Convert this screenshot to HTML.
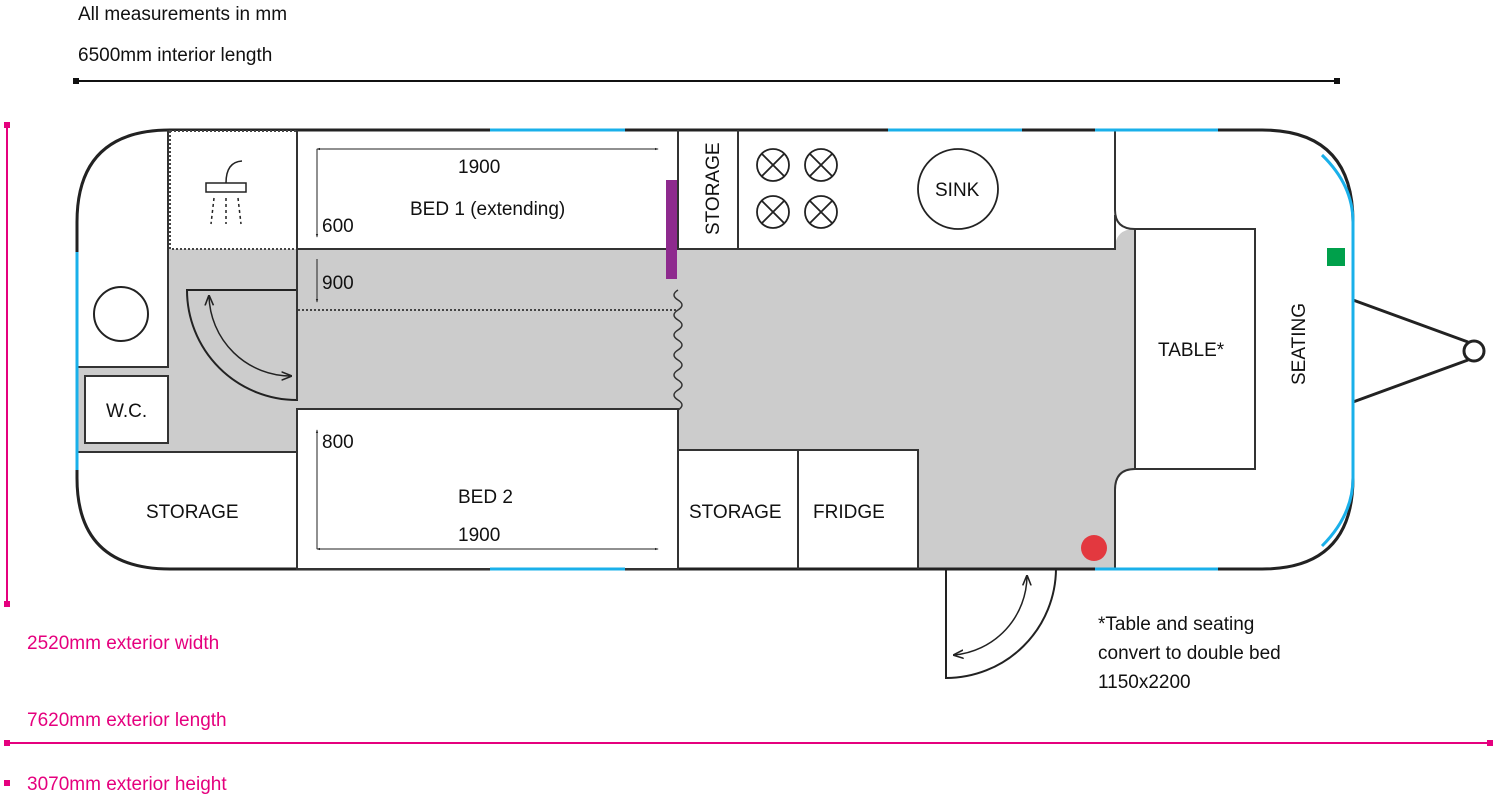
<!DOCTYPE html>
<html><head><meta charset="utf-8"><style>
body{margin:0;background:#fff;}
svg text{font-family:"Liberation Sans",sans-serif;font-size:19px;fill:#111;}
</style></head><body>
<svg width="1496" height="800" viewBox="0 0 1496 800" xmlns="http://www.w3.org/2000/svg">
<defs>
<marker id="a" viewBox="0 0 10 10" refX="9" refY="5" markerWidth="7" markerHeight="7" orient="auto-start-reverse"><path d="M0,1 L10,5 L0,9" fill="none" stroke="#222" stroke-width="1.5"/></marker>
<marker id="s" viewBox="0 0 10 10" refX="8" refY="5" markerWidth="4" markerHeight="4" orient="auto-start-reverse"><path d="M0,2 L10,5 L0,8z" fill="#222"/></marker>
</defs>
<text x="78" y="20">All measurements in mm</text>
<text x="78" y="61">6500mm interior length</text>
<line x1="77" y1="81" x2="1337" y2="81" stroke="#111" stroke-width="2"/>
<rect x="73" y="78" width="6" height="6" fill="#111"/><rect x="1334" y="78" width="6" height="6" fill="#111"/>
<line x1="7" y1="125" x2="7" y2="604" stroke="#e5007e" stroke-width="2"/>
<rect x="4" y="122" width="6" height="6" fill="#e5007e"/><rect x="4" y="601" width="6" height="6" fill="#e5007e"/>
<text x="27" y="649" style="fill:#e5007e">2520mm exterior width</text>
<text x="27" y="726" style="fill:#e5007e">7620mm exterior length</text>
<line x1="7" y1="743" x2="1490" y2="743" stroke="#e5007e" stroke-width="2"/>
<rect x="4" y="740" width="6" height="6" fill="#e5007e"/><rect x="1487" y="740" width="6" height="6" fill="#e5007e"/>
<rect x="4" y="780" width="6" height="6" fill="#e5007e"/>
<text x="27" y="790" style="fill:#e5007e">3070mm exterior height</text>
<path d="M168,249 H1115 Q1115,229 1135,229 V469 Q1115,469 1115,490 V569 H918 V450 H678 V409 H297 V452 H77 V367 H168Z" fill="#cccccc"/>
<path d="M170,130 H1262 Q1353,130 1353,222 V478 Q1353,569 1262,569 H170 Q77,569 77,478 V222 Q77,130 170,130Z" fill="none" stroke="#222" stroke-width="3"/>
<rect x="170" y="131" width="127" height="118" fill="#fff" stroke="#444" stroke-width="2" stroke-dasharray="2,2"/>
<rect x="206" y="183" width="40" height="9" fill="none" stroke="#222" stroke-width="1.5"/>
<path d="M226,183 Q226,162 242,161" fill="none" stroke="#222" stroke-width="1.5"/>
<g stroke="#222" stroke-width="1.5" stroke-dasharray="3,3"><line x1="214" y1="198" x2="211" y2="224"/><line x1="226" y1="198" x2="226" y2="224"/><line x1="238" y1="198" x2="241" y2="224"/></g>
<path d="M168,130 V367 H78" fill="none" stroke="#333" stroke-width="2"/>
<circle cx="121" cy="314" r="27" fill="none" stroke="#222" stroke-width="2"/>
<rect x="85" y="376" width="83" height="67" fill="#fff" stroke="#333" stroke-width="2"/>
<text x="106" y="417">W.C.</text>
<path d="M297,400 A110,110 0 0 1 187,290 H297 Z" fill="none" stroke="#222" stroke-width="2"/>
<path d="M209,296 A82,82 0 0 0 291,376" fill="none" stroke="#222" stroke-width="1.5" marker-start="url(#a)" marker-end="url(#a)"/>
<path d="M297,452 H78" stroke="#333" stroke-width="2"/>
<text x="146" y="518">STORAGE</text>
<path d="M297,130 V249 H678 M297,249 V400" fill="none" stroke="#333" stroke-width="2"/>
<line x1="317" y1="149" x2="658" y2="149" stroke="#222" stroke-width="1" marker-start="url(#s)" marker-end="url(#s)"/>
<line x1="317" y1="149" x2="317" y2="237" stroke="#222" stroke-width="1" marker-end="url(#s)"/>
<text x="458" y="173">1900</text>
<text x="410" y="215">BED 1 (extending)</text>
<text x="322" y="232">600</text>
<line x1="317" y1="259" x2="317" y2="302" stroke="#222" stroke-width="1" marker-end="url(#s)"/>
<text x="322" y="289">900</text>
<line x1="298" y1="310" x2="678" y2="310" stroke="#444" stroke-width="2" stroke-dasharray="2,2"/>
<rect x="666" y="180" width="11" height="99" fill="#8e2a8e"/>
<path d="M678,290 q-8,5 0,10 q8,5 0,10 q-8,5 0,10 q8,5 0,10 q-8,5 0,10 q8,5 0,10 q-8,5 0,10 q8,5 0,10 q-8,5 0,10 q8,5 0,10 q-8,5 0,10 q8,5 0,10" fill="none" stroke="#333" stroke-width="1.5"/>
<rect x="297" y="409" width="381" height="160" fill="#fff" stroke="#333" stroke-width="2"/>
<line x1="317" y1="549" x2="317" y2="430" stroke="#222" stroke-width="1" marker-end="url(#s)"/>
<line x1="317" y1="549" x2="658" y2="549" stroke="#222" stroke-width="1" marker-start="url(#s)" marker-end="url(#s)"/>
<text x="322" y="448">800</text>
<text x="458" y="503">BED 2</text>
<text x="458" y="541">1900</text>
<path d="M678,130 V249 H1115 V215 M738,130 V249 M1115,130 V210 Q1115,229 1135,229" fill="none" stroke="#333" stroke-width="2"/>
<text transform="translate(719,235) rotate(-90)">STORAGE</text>
<g fill="none" stroke="#222" stroke-width="1.8">
<circle cx="773" cy="165" r="16"/><path d="M762,154 L784,176 M784,154 L762,176"/>
<circle cx="821" cy="165" r="16"/><path d="M810,154 L832,176 M832,154 L810,176"/>
<circle cx="773" cy="212" r="16"/><path d="M762,201 L784,223 M784,201 L762,223"/>
<circle cx="821" cy="212" r="16"/><path d="M810,201 L832,223 M832,201 L810,223"/>
<circle cx="958" cy="189" r="40"/>
</g>
<text x="935" y="196">SINK</text>
<rect x="1135" y="229" width="120" height="240" fill="#fff" stroke="#333" stroke-width="2"/>
<path d="M1135,469 Q1115,469 1115,490 V569" fill="none" stroke="#333" stroke-width="2"/>
<text x="1158" y="356">TABLE*</text>
<text transform="translate(1305,385) rotate(-90)">SEATING</text>
<rect x="1327" y="248" width="18" height="18" fill="#00a04b"/>
<circle cx="1094" cy="548" r="13" fill="#e3383f"/>
<path d="M678,569 V450 H918 V569 M798,450 V569" fill="none" stroke="#333" stroke-width="2"/>
<text x="689" y="518">STORAGE</text>
<text x="813" y="518">FRIDGE</text>
<path d="M1353,300 L1468,342 M1353,402 L1468,360" stroke="#222" stroke-width="3" fill="none"/>
<ellipse cx="1474" cy="351" rx="10" ry="10" fill="#fff" stroke="#222" stroke-width="3"/>
<path d="M946,569 V678 A110,110 0 0 0 1056,569" fill="none" stroke="#222" stroke-width="2"/>
<path d="M1027,576 A80,80 0 0 1 954,655" fill="none" stroke="#222" stroke-width="1.5" marker-start="url(#a)" marker-end="url(#a)"/>
<text x="1098" y="630">*Table and seating</text>
<text x="1098" y="659">convert to double bed</text>
<text x="1098" y="688">1150x2200</text>
<g stroke="#1ab0ea" stroke-width="3" fill="none">
<line x1="490" y1="130" x2="625" y2="130"/><line x1="888" y1="130" x2="1022" y2="130"/><line x1="1095" y1="130" x2="1218" y2="130"/>
<line x1="490" y1="569" x2="625" y2="569"/><line x1="1095" y1="569" x2="1218" y2="569"/>
<line x1="77" y1="252" x2="77" y2="470"/>
<path d="M1322,155 Q1353,185 1353,222 V478 Q1353,515 1322,546"/>
</g>
</svg>
</body></html>
